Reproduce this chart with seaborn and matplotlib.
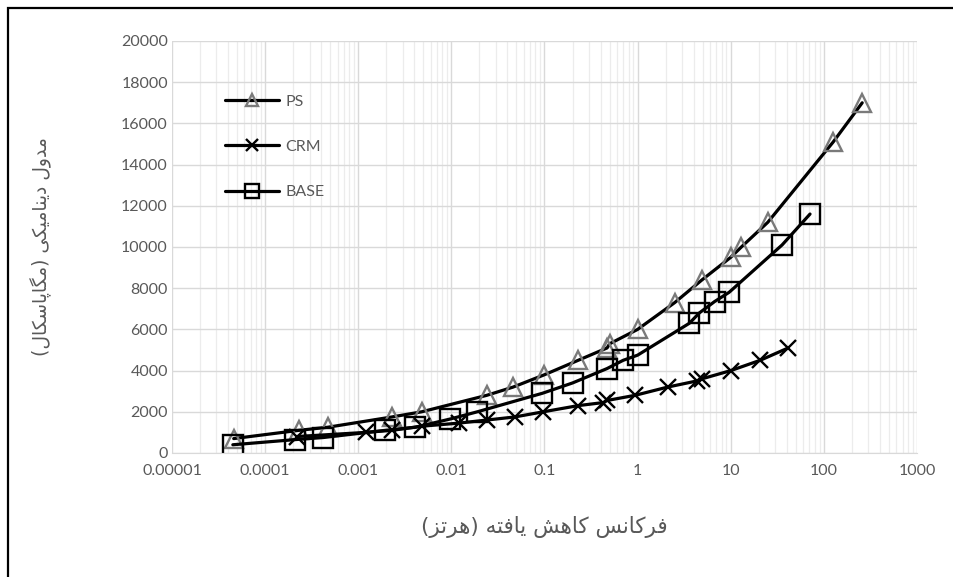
import numpy as np
import pandas as pd
import matplotlib
matplotlib.use("Agg")
import matplotlib.pyplot as plt
import seaborn as sns
from matplotlib.patches import Rectangle
from matplotlib.ticker import LogLocator, NullFormatter

# ---------------- data ----------------
series_names = ["PS", "CRM", "BASE"]

ps_freq = [4.6e-5, 2.3e-4, 4.7e-4, 2.3e-3, 4.8e-3, 0.024, 0.046, 0.1, 0.23, 0.47,
           0.5, 1.0, 2.5, 4.9, 10, 13, 25, 126, 258]
ps_mod = [700, 1100, 1250, 1750, 2000, 2800, 3200, 3800, 4500, 5100,
          5300, 6000, 7300, 8400, 9500, 10000, 11200, 15100, 17000]

crm_freq = [2.2e-4, 1.2e-3, 2.3e-3, 4.8e-3, 0.012, 0.024, 0.048, 0.097, 0.23, 0.43,
            0.47, 0.94, 2.1, 4.35, 4.9, 10, 20.7, 41.4]
crm_mod = [800, 1000, 1100, 1300, 1450, 1600, 1750, 2000, 2300, 2450,
           2550, 2800, 3200, 3500, 3600, 4000, 4500, 5100]

base_freq = [4.5e-5, 2.1e-4, 4.2e-4, 1.95e-3, 4.1e-3, 0.0097, 0.019, 0.095, 0.2, 0.47,
             0.7, 1.0, 3.6, 4.6, 6.7, 9.6, 35.6, 71]
base_mod = [400, 650, 750, 1100, 1250, 1650, 2000, 2900, 3400, 4100,
            4500, 4750, 6300, 6800, 7350, 7800, 10100, 11600]

x_tick_vals = [1e-5, 1e-4, 1e-3, 1e-2, 1e-1, 1, 10, 100, 1000]
x_tick_labels = ["0.00001", "0.0001", "0.001", "0.01", "0.1", "1", "10", "100", "1000"]
y_tick_vals = list(range(0, 20001, 2000))
y_tick_labels = [str(v) for v in y_tick_vals]

x_label = "فرکانس کاهش یافته (هرتز)"
y_label = "مدول دینامیکی (مگاپاسکال)"

# ---------------- simple Persian shaping (presentation forms) ----------------
FORMS = {
    "ا": ("\uFE8D", "\uFE8E"),
    "د": ("\uFEA9", "\uFEAA"),
    "ر": ("\uFEAD", "\uFEAE"),
    "ز": ("\uFEAF", "\uFEB0"),
    "و": ("\uFEED", "\uFEEE"),
    "ت": ("\uFE95", "\uFE96", "\uFE97", "\uFE98"),
    "س": ("\uFEB1", "\uFEB2", "\uFEB3", "\uFEB4"),
    "ش": ("\uFEB5", "\uFEB6", "\uFEB7", "\uFEB8"),
    "ف": ("\uFED1", "\uFED2", "\uFED3", "\uFED4"),
    "ل": ("\uFEDD", "\uFEDE", "\uFEDF", "\uFEE0"),
    "م": ("\uFEE1", "\uFEE2", "\uFEE3", "\uFEE4"),
    "ن": ("\uFEE5", "\uFEE6", "\uFEE7", "\uFEE8"),
    "ه": ("\uFEE9", "\uFEEA", "\uFEEB", "\uFEEC"),
    "ی": ("\uFBFC", "\uFBFD", "\uFBFE", "\uFBFF"),
    "ک": ("\uFB8E", "\uFB8F", "\uFB90", "\uFB91"),
    "گ": ("\uFB92", "\uFB93", "\uFB94", "\uFB95"),
    "پ": ("\uFB56", "\uFB57", "\uFB58", "\uFB59"),
}


def shape_rtl(text):
    out = []
    n = len(text)
    for i, ch in enumerate(text):
        if ch not in FORMS:
            out.append(ch)
            continue
        f = FORMS[ch]
        prev = text[i - 1] if i > 0 else ""
        nxt = text[i + 1] if i < n - 1 else ""
        prev_join = prev in FORMS and len(FORMS[prev]) == 4
        next_join = len(f) == 4 and nxt in FORMS
        if prev_join and next_join:
            out.append(f[3])
        elif prev_join:
            out.append(f[1])
        elif next_join:
            out.append(f[2])
        else:
            out.append(f[0])
    vis = "".join(reversed(out))
    mirror = {"(": ")", ")": "("}
    return "".join(mirror.get(c, c) for c in vis)


# ---------------- figure ----------------
sns.set_style("white")
plt.rcParams["font.family"] = ["Lato", "DejaVu Sans"]

fig = plt.figure(figsize=(9.54, 5.77), dpi=100)
ax = fig.add_axes([172 / 954, 1 - 453 / 577, (917 - 172) / 954, (453 - 41) / 577])

gray_txt = "#595959"
line_kw = dict(color="black", linewidth=2.3, markerfacecolor="none",
               markeredgewidth=1.7, estimator=None, sort=False)

df_ps = pd.DataFrame({"freq": ps_freq, "mod": ps_mod})
df_crm = pd.DataFrame({"freq": crm_freq, "mod": crm_mod})
df_base = pd.DataFrame({"freq": base_freq, "mod": base_mod})

sns.lineplot(data=df_ps, x="freq", y="mod", ax=ax, marker="^", markersize=13,
             markeredgecolor="#7a7a7a", label=series_names[0], **line_kw)
sns.lineplot(data=df_crm, x="freq", y="mod", ax=ax, marker="x", markersize=12,
             markeredgecolor="black", label=series_names[1], **line_kw)
sns.lineplot(data=df_base, x="freq", y="mod", ax=ax, marker="s", markersize=14,
             markeredgecolor="black", label=series_names[2], **line_kw)

ax.set_xscale("log")
ax.set_xlim(1e-5, 1e3)
ax.set_ylim(0, 20000)
ax.set_xticks(x_tick_vals)
ax.set_xticklabels(x_tick_labels)
ax.xaxis.set_minor_locator(LogLocator(base=10, subs=np.arange(2, 10), numticks=100))
ax.xaxis.set_minor_formatter(NullFormatter())
ax.set_yticks(y_tick_vals)
ax.set_yticklabels(y_tick_labels)

ax.grid(True, which="major", axis="both", color="#d9d9d9", linewidth=1.0)
ax.grid(True, which="minor", axis="x", color="#ececec", linewidth=0.9)
ax.set_axisbelow(True)
for s in ["top", "right", "left"]:
    ax.spines[s].set_visible(False)
ax.spines["bottom"].set_color("#d9d9d9")
ax.tick_params(axis="both", which="both", length=0, labelsize=11.5, labelcolor=gray_txt)
ax.tick_params(axis="x", pad=8)
ax.tick_params(axis="y", pad=3)

ax.set_xlabel(shape_rtl(x_label), fontsize=15.5, color=gray_txt, family=["DejaVu Sans"], labelpad=27)
ax.set_ylabel(shape_rtl(y_label), fontsize=13.5, color=gray_txt, family=["DejaVu Sans"], labelpad=50)

leg = ax.legend(loc="upper left", bbox_to_anchor=(0.052, 0.905), frameon=False,
                handlelength=3.4, labelspacing=1.95, fontsize=11.5, handletextpad=0.35,
                markerscale=0.7)
for t in leg.get_texts():
    t.set_color(gray_txt)

fig.add_artist(Rectangle((8 / 954, -0.2), 1.5, 1.2 - 8 / 577, transform=fig.transFigure,
                         fill=False, edgecolor="black", linewidth=1.6))

fig.savefig("out.png", dpi=100)
